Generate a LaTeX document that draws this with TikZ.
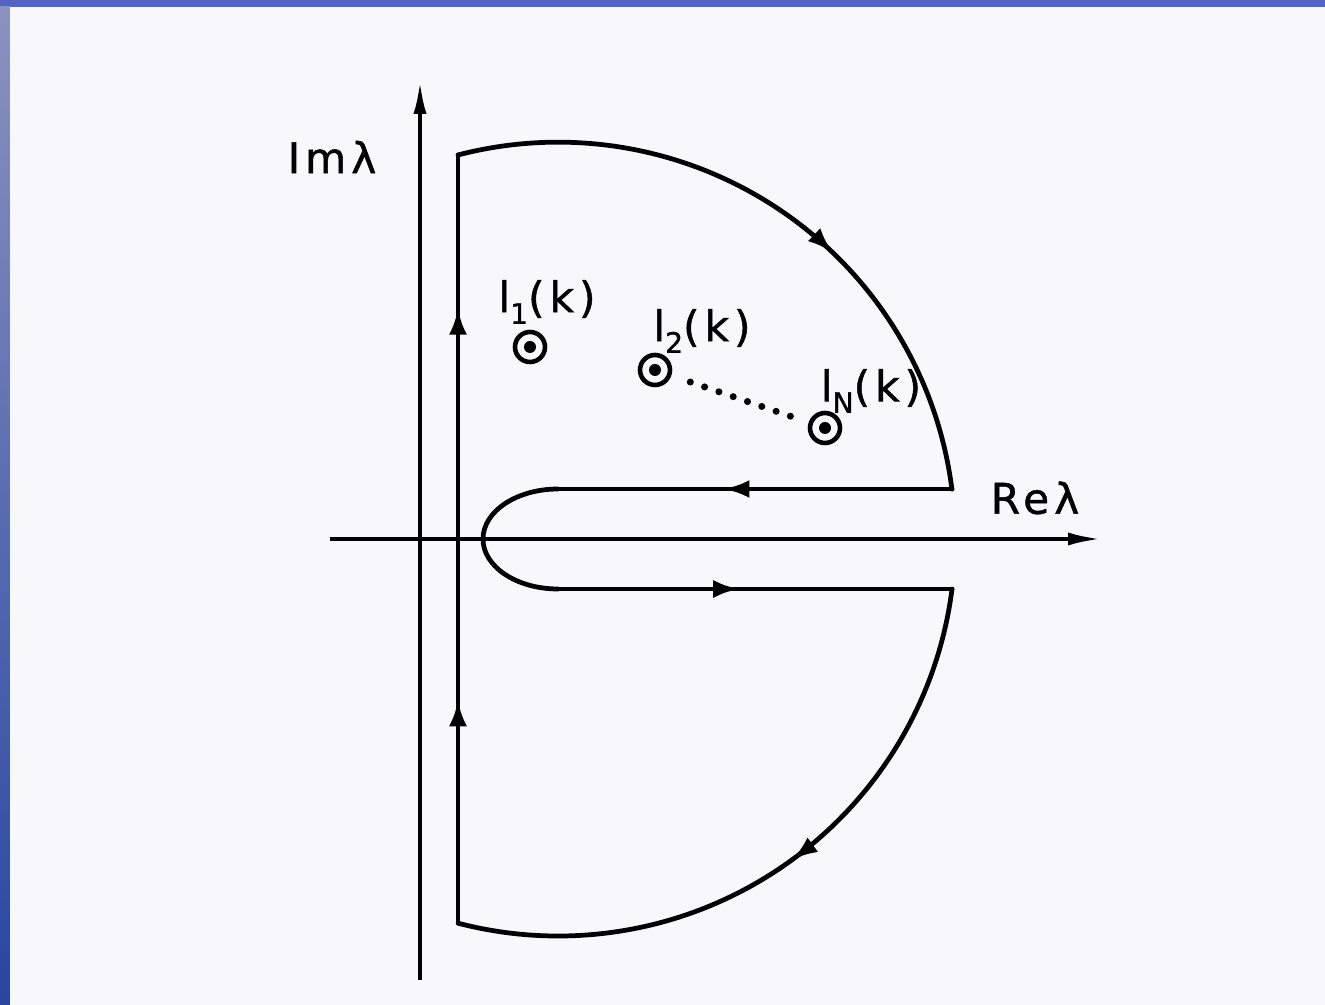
\documentclass[tikz,border=0pt]{standalone}
\usepackage{fontspec}
\setmainfont{DejaVu Sans}
\usepackage{xcolor}
\usepackage{tikz}
\usetikzlibrary{arrows.meta,decorations.markings}
\definecolor{slideblue}{RGB}{84,100,196}
\definecolor{slidetop}{RGB}{140,146,190}
\definecolor{slidebottom}{RGB}{40,70,160}
\definecolor{paper}{RGB}{248,248,250}
\newcommand\lowsub[1]{\raisebox{-0.5ex}{\footnotesize #1}}

\begin{document}
\begin{tikzpicture}[
  axis/.style={line width=1.2pt, -{Latex[length=3.4mm,width=1.3mm]}},
  contour/.style={line width=1.35pt, line cap=round, line join=round},
  flow/.style={postaction={decorate, decoration={markings,
      mark=at position #1 with {\arrow{Latex[length=2.6mm,width=1.8mm]}}}}},
  pole/.style={circle, draw, line width=1.3pt, minimum size=0.30cm, inner sep=0pt,
      path picture={\fill (path picture bounding box.center) circle (0.06);}},
  lab/.style={font=\fontsize{12}{14}\selectfont\addfontfeature{LetterSpace=12,FakeBold=1.2}},
]
  % ---- Slide background ----
  \useasboundingbox (-4.20,-4.66) rectangle (9.05,5.39);
  \fill[slideblue] (-4.20,-4.66) rectangle (9.05,5.39);
  \shade[top color=slidetop, bottom color=slidebottom] (-4.20,-4.66) rectangle (-4.10,5.32);
  \fill[paper] (-4.10,-4.66) rectangle (9.05,5.32);

  % ---- Axes ----
  \coordinate (xl) at (-0.90,0);
  \coordinate (xr) at (6.82,0);
  \coordinate (yb) at (0,-4.41);
  \coordinate (yt) at (0,4.59);
  \draw[axis] (xl) -- (xr);
  \draw[axis] (yb) -- (yt);
  \node[lab] (im) at (-0.88,3.82) {Imλ};
  \node[lab] (re) at (6.15,0.41) {Reλ};

  % ---- Contour ----
  \coordinate (bl) at (0.38,-3.84);
  \coordinate (tl) at (0.38,3.84);
  \coordinate (ur) at (5.32,0.5);
  \coordinate (ul) at (1.38,0.5);
  \coordinate (ll) at (1.38,-0.5);
  \coordinate (lr) at (5.32,-0.5);
  \draw[contour, flow=0.29, flow=0.80] (bl) -- (tl);
  \draw[contour, flow=0.60] (tl) arc[start angle=104.6, end angle=7.23, radius=3.97];
  \draw[contour, flow=0.58] (ur) -- (ul);
  \draw[contour] (ul) arc[start angle=90, end angle=270, x radius=0.75, y radius=0.5];
  \draw[contour, flow=0.46] (ll) -- (lr);
  \draw[contour, flow=0.48] (lr) arc[start angle=-7.23, end angle=-104.6, radius=3.97];

  % ---- Eigenvalues ----
  \node[pole] (p1) at (1.10,1.92) {};
  \node[pole] (p2) at (2.35,1.69) {};
  \node[pole] (pN) at (4.05,1.11) {};
  \node[lab] (l1) at (1.27,2.37) {l\lowsub{1}(k)};
  \node[lab] (l2) at (2.82,2.08) {l\lowsub{2}(k)};
  \node[lab] (lN) at (4.51,1.48) {l\lowsub{N}(k)};
  \draw[line width=2pt, line cap=round, dash pattern=on 0pt off 4.3pt,
        shorten <=0.2cm, shorten >=0.08cm] (p2) -- (pN);
\end{tikzpicture}
\end{document}
